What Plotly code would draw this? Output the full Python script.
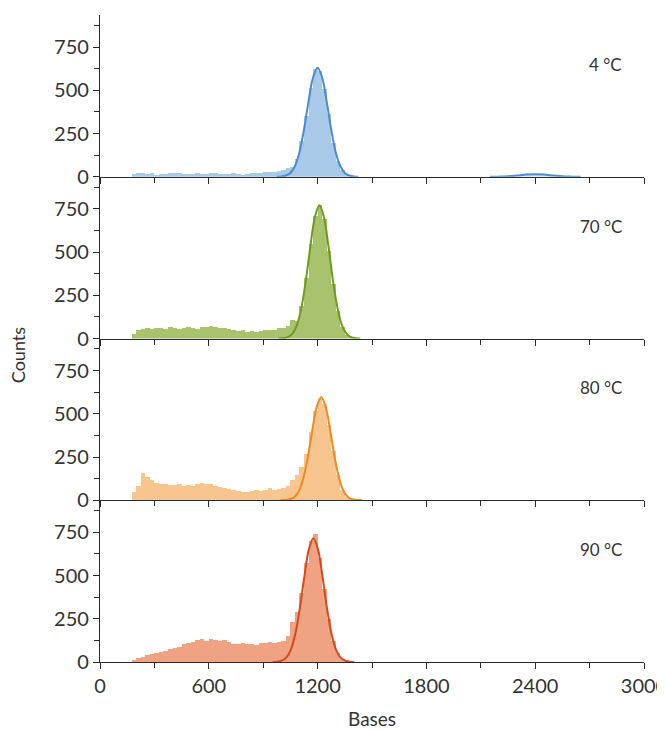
import plotly.graph_objects as go
from plotly.subplots import make_subplots

# histogram bins: left edges, 25 bases wide
BIN_WIDTH = 25
bin_left = list(range(175, 1500, BIN_WIDTH))

labels = ["4 °C", "70 °C", "80 °C", "90 °C"]

# counts per bin
counts_4 = [14, 20, 22, 18, 21, 13, 15, 17, 19, 22, 24, 18, 14, 16, 20, 17, 15, 19, 21, 16,
            14, 18, 20, 15, 13, 17, 19, 21, 24, 26, 30, 28, 34,
            40, 48, 55, 100, 205, 350, 515, 620, 610, 505, 360, 198, 92, 40, 14, 4, 0, 0, 0, 0]
counts_70 = [30, 50, 58, 62, 55, 65, 60, 58, 66, 62, 55, 60, 68, 64, 58, 70, 66, 72, 68, 60,
             64, 55, 50, 44, 48, 40, 45, 38, 42, 48, 50, 52, 60,
             62, 72, 110, 100, 190, 350, 548, 712, 772, 690, 508, 318, 160, 68, 24, 7, 2, 0, 0, 0]
counts_80 = [50, 85, 160, 135, 120, 105, 98, 95, 92, 90, 94, 88, 92, 85, 96, 100, 95, 98, 85, 78,
             72, 68, 62, 58, 50, 52, 55, 60, 58, 65, 72, 62, 70,
             75, 85, 120, 150, 195, 270, 400, 520, 590, 560, 440, 285, 150, 65, 24, 7, 2, 0, 0, 0]
counts_90 = [8, 20, 30, 38, 42, 48, 55, 62, 72, 80, 88, 100, 110, 115, 125, 130, 118, 132, 125, 120,
             126, 112, 104, 100, 108, 100, 104, 98, 110, 106, 112, 108, 115,
             120, 150, 230, 290, 400, 570, 700, 740, 600, 420, 245, 118, 48, 18, 6, 2, 0, 0, 0, 0]

# fitted curves (x, y)
fit_x_4 = [975, 1000, 1025, 1050, 1075, 1100, 1125, 1150, 1175, 1200, 1225, 1250, 1275, 1300, 1325, 1350, 1375, 1400, 1425]
fit_y_4 = [0, 2, 7, 22, 62, 142, 273, 435, 574, 630, 574, 435, 273, 142, 62, 22, 7, 2, 0]
bump_x_4 = [2150, 2200, 2250, 2300, 2350, 2400, 2450, 2500, 2550, 2600, 2650]
bump_y_4 = [0, 0.7, 2.6, 6.9, 12.3, 15, 12.3, 6.9, 2.6, 0.7, 0]
fit_x_70 = [985, 1010, 1035, 1060, 1085, 1110, 1135, 1160, 1185, 1210, 1235, 1260, 1285, 1310, 1335, 1360, 1385, 1410, 1435]
fit_y_70 = [0, 2, 8, 27, 75, 174, 333, 531, 701, 770, 701, 531, 333, 174, 75, 27, 8, 2, 0]
fit_x_80 = [995, 1020, 1045, 1070, 1095, 1120, 1145, 1170, 1195, 1220, 1245, 1270, 1295, 1320, 1345, 1370, 1395, 1420, 1445]
fit_y_80 = [0, 1, 5, 16, 49, 121, 243, 399, 538, 595, 538, 399, 243, 121, 49, 16, 5, 1, 0]
fit_x_90 = [952, 977, 1002, 1027, 1052, 1077, 1102, 1127, 1152, 1177, 1202, 1227, 1252, 1277, 1302, 1327, 1352, 1377, 1402]
fit_y_90 = [0, 2, 8, 25, 70, 162, 310, 493, 651, 715, 651, 493, 310, 162, 70, 25, 8, 2, 0]

fills = ["#a9c9e8", "#a9c26e", "#f8c58e", "#efa383"]
lines = ["#4a8ccf", "#6e9b1e", "#ee8a1e", "#d8481c"]

hists = [counts_4, counts_70, counts_80, counts_90]
fits = [(fit_x_4, fit_y_4), (fit_x_70, fit_y_70), (fit_x_80, fit_y_80), (fit_x_90, fit_y_90)]

FONT = "Lato, 'Open Sans', sans-serif"
AX = "#2b2b2b"
TXT = "#333333"

fig = make_subplots(rows=4, cols=1, shared_xaxes=True, vertical_spacing=0)

centers = [b + BIN_WIDTH / 2 for b in bin_left]
for i in range(4):
    r = i + 1
    fig.add_trace(go.Bar(x=centers, y=hists[i], width=BIN_WIDTH,
                         marker=dict(color=fills[i], line=dict(width=0)),
                         showlegend=False), row=r, col=1)
    fx, fy = fits[i]
    fig.add_trace(go.Scatter(x=fx, y=fy, mode="lines",
                             line=dict(color=lines[i], width=2, shape="spline"),
                             showlegend=False), row=r, col=1)
    if i == 0:
        fig.add_trace(go.Scatter(x=bump_x_4, y=bump_y_4, mode="lines", fill="tozeroy",
                                 fillcolor="rgba(169,201,232,0.6)",
                                 line=dict(color=lines[0], width=2, shape="spline"),
                                 showlegend=False), row=r, col=1)

    fig.update_yaxes(range=[0, 935], tickvals=[0, 250, 500, 750], ticks="outside", ticklen=6,
                     tickwidth=1.2, tickcolor=AX, showline=True, linecolor=AX, linewidth=1.3,
                     showgrid=False, zeroline=False, automargin=False,
                     minor=dict(dtick=125, ticks="outside", ticklen=5, tickwidth=1.2, tickcolor=AX),
                     tickfont=dict(size=20, color=TXT), row=r, col=1)
    fig.update_xaxes(range=[0, 3000], tickvals=[0, 600, 1200, 1800, 2400, 3000], ticks="outside",
                     ticklen=6, tickwidth=1.2, tickcolor=AX, showline=True, linecolor=AX,
                     linewidth=1.3, showgrid=False, zeroline=False, automargin=False,
                     ticklabeloverflow="allow",
                     minor=dict(dtick=300, ticks="outside", ticklen=5, tickwidth=1.2, tickcolor=AX),
                     showticklabels=(r == 4), tickfont=dict(size=20, color=TXT), row=r, col=1)

    xa = "x" if r == 1 else f"x{r}"
    ya = "y" if r == 1 else f"y{r}"
    fig.add_annotation(text=labels[i], xref=f"{xa} domain", yref=f"{ya} domain",
                       x=0.963, y=0.695, xanchor="right", yanchor="middle", showarrow=False,
                       font=dict(size=17, color=TXT, family=FONT))

fig.add_annotation(text="Counts", xref="paper", yref="paper", x=-0.151, y=0.474,
                   textangle=-90, showarrow=False, xanchor="center", yanchor="middle",
                   font=dict(size=18, color=TXT, family=FONT))
fig.add_annotation(text="Bases", xref="paper", yref="paper", x=0.5, y=-0.0866,
                   showarrow=False, xanchor="center", yanchor="middle",
                   font=dict(size=19, color=TXT, family=FONT))

# the page body adds an 8px margin, so the figure is 8px smaller than the window
fig.update_layout(width=657, height=723, margin=dict(l=92, r=21, t=7, b=69),
                  plot_bgcolor="white", paper_bgcolor="white", bargap=0,
                  font=dict(family=FONT, color=TXT))

fig.write_html("out.html")
